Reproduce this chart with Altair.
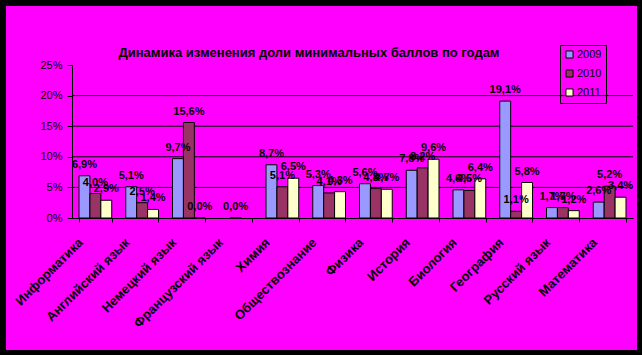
import altair as alt
import pandas as pd

categories = ["Информатика", "Английский язык", "Немецкий язык", "Французский язык",
              "Химия", "Обществознание", "Физика", "История", "Биология",
              "География", "Русский язык", "Математика"]
years = ["2009", "2010", "2011"]
v2009 = [6.9, 5.1, 9.7, None, 8.7, 5.3, 5.6, 7.8, 4.6, 19.1, 1.7, 2.6]
v2010 = [4.0, 2.5, 15.6, 0.0, 5.1, 4.1, 4.8, 8.2, 4.5, 1.1, 1.7, 5.2]
v2011 = [2.9, 1.4, 0.0, None, 6.5, 4.3, 4.7, 9.6, 6.4, 5.8, 1.2, 3.4]
colors = ["#9999FF", "#993366", "#FFFFCC"]
y_ticks = [0, 5, 10, 15, 20, 25]
grid_values = [5, 10, 15, 20]
title_text = "Динамика изменения доли минимальных баллов по годам"

rows = []
for yr, vals in zip(years, [v2009, v2010, v2011]):
    for c, v in zip(categories, vals):
        rows.append({"cat": c, "year": yr, "value": v})
df = pd.DataFrame(rows)

FONT = "Liberation Sans"
W, H = 561, 153

yscale = alt.Scale(domain=[0, 25], nice=False)
xscale = alt.Scale(domain=categories, paddingInner=0.3, paddingOuter=0.15)

yaxis = alt.Axis(values=y_ticks, labelExpr="datum.value + '%'", grid=False,
                 labelFontSize=11, labelFont=FONT, labelColor="black", labelOverlap=False,
                 domainColor="black", tickColor="black", tickSize=5, labelPadding=5,
                 zindex=2, title=None)

bg = alt.Chart(alt.Data(values=[{}])).mark_rect(fill="#FF00FF").encode(
    x=alt.value(-66), x2=alt.value(565), y=alt.value(-59), y2=alt.value(285)
)

grid = alt.Chart(pd.DataFrame({"g": grid_values})).mark_rule(color="black", strokeWidth=1).encode(
    y=alt.Y("g:Q", scale=yscale, axis=None),
    x=alt.value(0), x2=alt.value(W),
)

base = alt.Chart(df).transform_filter("isValid(datum.value)")

bars = base.mark_bar(stroke="black", strokeWidth=1).encode(
    x=alt.X("cat:N", scale=xscale, sort=categories, title=None,
            axis=alt.Axis(labelAngle=-45, labelAlign="right", labelBaseline="middle",
                          labelFontSize=13, labelFontWeight="bold", labelFont=FONT,
                          labelColor="black", domainColor="black", tickColor="black",
                          tickSize=4, tickBand="extent", labelPadding=18, labelOffset=-15,
                          zindex=2)),
    xOffset=alt.XOffset("year:N", sort=years),
    y=alt.Y("value:Q", scale=yscale, title=None, axis=yaxis),
    color=alt.Color("year:N", sort=years, scale=alt.Scale(domain=years, range=colors),
                    legend=alt.Legend(title=None, orient="none", legendX=488, legendY=-20,
                                      strokeColor="black", padding=4, symbolType="square",
                                      symbolSize=50, symbolStrokeColor="black",
                                      symbolStrokeWidth=1, labelFontSize=11, labelFont=FONT,
                                      labelColor="black", rowPadding=6, labelOffset=2)),
)

labels = base.transform_calculate(
    lab="replace(format(datum.value, '.1f'), '.', ',') + '%'"
).mark_text(fontSize=11, fontWeight="bold", font=FONT, color="black", dy=-11).encode(
    x=alt.X("cat:N", scale=xscale, sort=categories),
    xOffset=alt.XOffset("year:N", sort=years),
    y=alt.Y("value:Q", scale=yscale, axis=yaxis),
    text="lab:N",
)

data_layers = alt.layer(bars, labels)

title = alt.Chart(alt.Data(values=[{}])).mark_text(
    text=title_text, fontSize=13, fontWeight="bold", font=FONT, color="black",
    baseline="alphabetic", align="center"
).encode(x=alt.value(237), y=alt.value(-8))

chart = alt.layer(bg, grid, data_layers, title).resolve_scale(
    y="independent"
).resolve_axis(y="independent").properties(
    width=W, height=H,
    autosize=alt.AutoSizeParams(type="none"),
    padding={"left": 72, "top": 65, "right": 9, "bottom": 137},
    background="black",
).configure_view(stroke=None)

chart.save("out.html", embed_options={"renderer": "svg", "actions": False})
